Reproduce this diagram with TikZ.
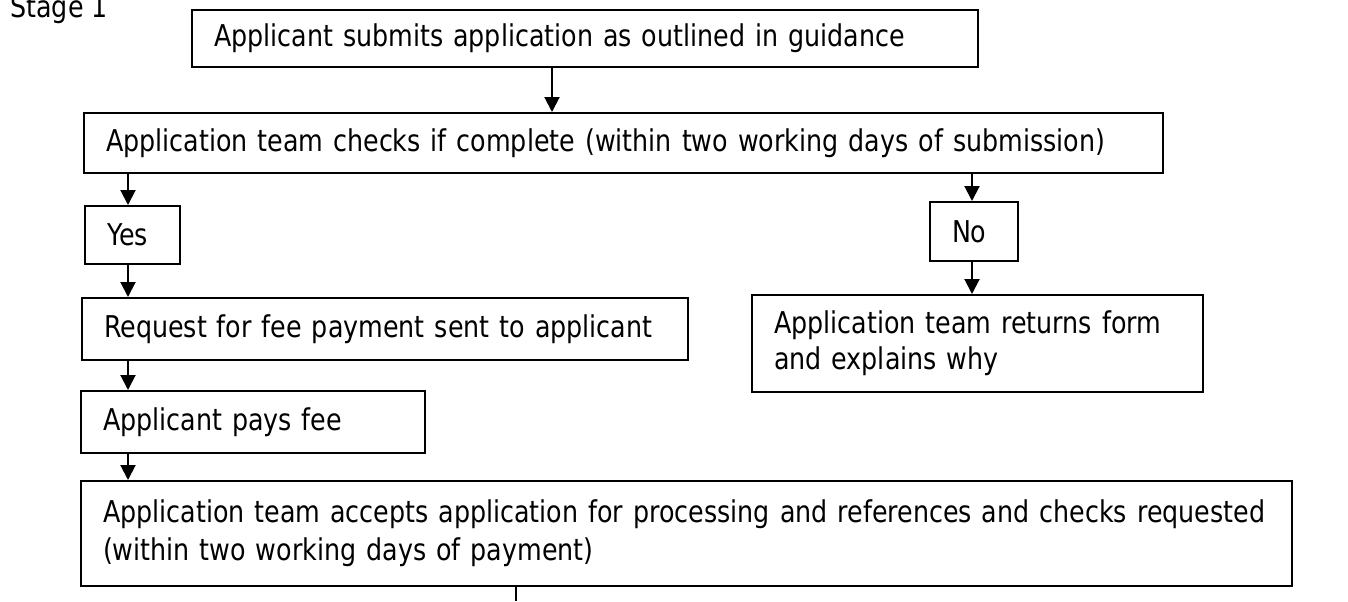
\documentclass[tikz,border=0pt]{standalone}
\usepackage{fontspec}
\newfontfamily\boxfont[FakeStretch=0.845]{DejaVu Sans}
\usetikzlibrary{arrows.meta}
\tikzset{
    stepbox/.style={draw,line width=1pt,anchor=north west,inner xsep=11pt,inner ysep=0pt,
        align=left,font=\boxfont\fontsize{15pt}{18pt}\selectfont},
    flow/.style={line width=1pt,-{Triangle[width=7.5pt,length=7.5pt]}}
}
\begin{document}
\begin{tikzpicture}[x=0.5pt,y=-0.5pt]
        \useasboundingbox (0,0) rectangle (1348,601);
        %% Heading
        \node[anchor=base west,inner sep=0pt,font=\boxfont\fontsize{15pt}{18pt}\selectfont] (stage) at (10,17) {Stage 1};
        %% Boxes
        \node[stepbox,text width=371pt,minimum height=28.5pt] (submit) at (191,9)
            {Applicant submits application as outlined in guidance};
        \node[stepbox,text width=517.5pt,minimum height=30pt] (check) at (83,112)
            {Application team checks if complete (within two working days of submission)};
        \node[stepbox,text width=25.5pt,minimum height=29pt] (yes) at (84,205) {Yes};
        \node[stepbox,text width=22pt,minimum height=29.5pt] (no) at (929,201) {No};
        \node[stepbox,text width=281pt,minimum height=31pt] (request) at (81,297)
            {Request for fee payment sent to applicant};
        \node[stepbox,text width=203.5pt,minimum height=48.5pt] (returns) at (751,294)
            {Application team returns form\\and explains why};
        \node[stepbox,text width=150pt,minimum height=31pt] (pays) at (80,390) {Applicant pays fee};
        \node[stepbox,text width=583.5pt,minimum height=52.5pt,
            font=\boxfont\fontsize{15pt}{19pt}\selectfont] (accept) at (80,480)
            {Application team accepts application for processing and references and checks requested\\(within two working days of payment)};
        %% Arrows
        \coordinate (mid)  at (552,0);
        \coordinate (lcol) at (128,0);
        \coordinate (rcol) at (972,0);
        \coordinate (out)  at (516,601);
        \draw[flow] (mid |- submit.south) -- (mid |- check.north);
        \draw[flow] (lcol |- check.south) -- (lcol |- yes.north);
        \draw[flow] (rcol |- check.south) -- (rcol |- no.north);
        \draw[flow] (lcol |- yes.south) -- (lcol |- request.north);
        \draw[flow] (rcol |- no.south) -- (rcol |- returns.north);
        \draw[flow] (lcol |- request.south) -- (lcol |- pays.north);
        \draw[flow] (lcol |- pays.south) -- (lcol |- accept.north);
        \draw[line width=1pt] (out |- accept.south) -- (out);
\end{tikzpicture}
\end{document}
